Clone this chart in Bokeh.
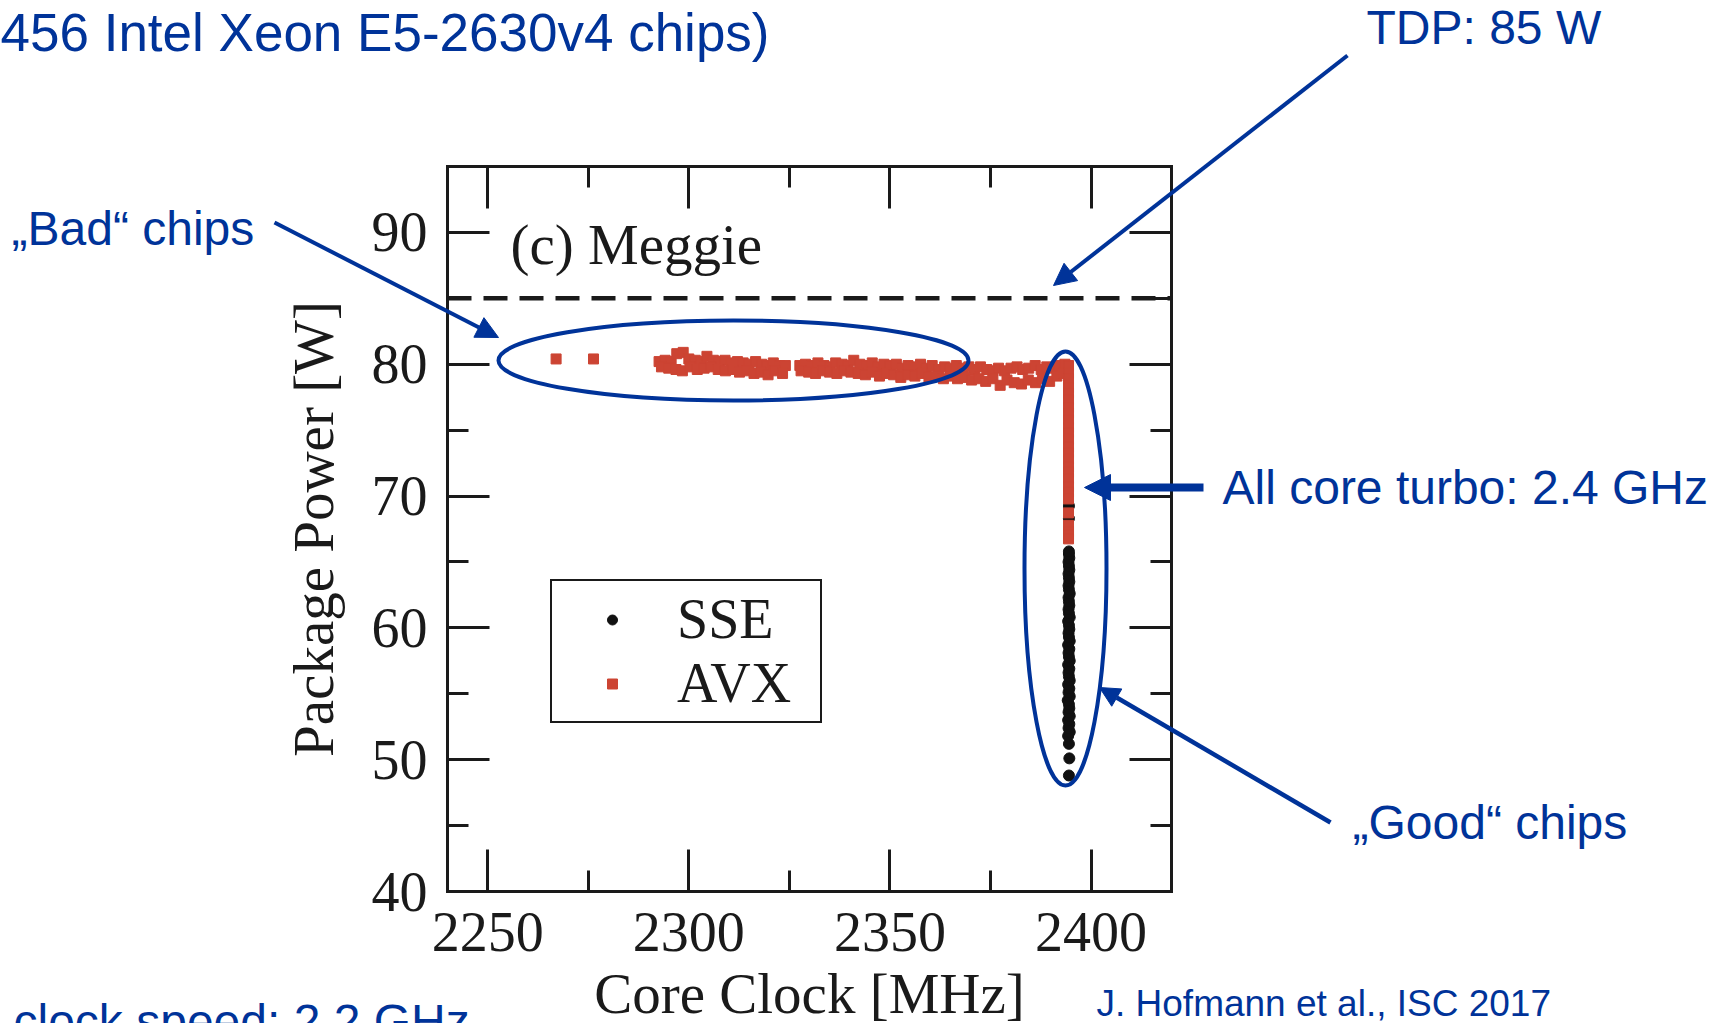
from bokeh.plotting import figure
from bokeh.models import (Range1d, FixedTicker, LinearAxis, Label, Arrow,
                          NormalHead, Legend, LegendItem)
from bokeh.embed import file_html
from bokeh.resources import INLINE

# ---------------- data ----------------
sse_power = [48.8, 50.1, 51.2, 51.8, 52.1, 52.4, 52.7, 53.0, 53.3, 53.6, 53.9,
             54.2, 54.5, 54.8, 55.1, 55.4, 55.7, 56.0, 56.3, 56.6, 56.9, 57.2,
             57.5, 57.8, 58.1, 58.4, 58.7, 59.0, 59.3, 59.6, 59.9, 60.2, 60.5,
             60.8, 61.1, 61.4, 61.7, 62.0, 62.3, 62.6, 62.9, 63.2, 63.5, 63.8,
             64.1, 64.4, 64.7, 65.0, 65.3, 65.6, 65.8, 68.3, 69.25]
sse_clock = [2394.5, 2394.6, 2394.5, 2394.3, 2394.7, 2394.4, 2394.6, 2394.3,
             2394.7, 2394.4, 2394.6, 2394.5, 2394.2, 2394.7, 2394.4, 2394.6,
             2394.3, 2394.7, 2394.5, 2394.4, 2394.6, 2394.3, 2394.7, 2394.5,
             2394.4, 2394.6, 2394.3, 2394.7, 2394.5, 2394.4, 2394.6, 2394.5,
             2394.3, 2394.7, 2394.5, 2394.4, 2394.6, 2394.5, 2394.4, 2394.7,
             2394.5, 2394.4, 2394.6, 2394.5, 2394.4, 2394.6, 2394.5, 2394.4,
             2394.6, 2394.5, 2394.5, 2394.5, 2394.5]

avx_clock = [2267.0, 2276.3,
             # band, upper row
             2292.6, 2294.1, 2295.6, 2297.0, 2298.6, 2300.0, 2301.6, 2303.1,
             2304.5, 2306.1, 2307.6, 2309.0, 2310.6, 2312.1, 2313.5, 2315.0,
             2316.6, 2318.1, 2319.5, 2321.0, 2322.6, 2324.0,
             2327.6, 2329.0, 2330.5, 2332.1, 2333.6, 2335.0, 2336.5, 2338.1,
             2339.6, 2341.0, 2342.5, 2344.1, 2345.6, 2347.0, 2348.5, 2350.1,
             2351.6, 2353.0, 2354.5, 2356.1, 2357.6, 2359.0, 2360.5, 2362.1,
             2363.6, 2365.0, 2366.5, 2368.1, 2369.6, 2371.0, 2372.5, 2374.1,
             2375.6, 2377.0, 2378.5, 2380.1, 2381.6, 2383.0, 2384.5, 2386.1,
             2387.6, 2389.0, 2390.5, 2392.1, 2393.5,
             # band, lower row
             2293.2, 2295.0, 2296.8, 2298.4, 2300.3, 2302.1, 2303.8, 2305.6,
             2307.3, 2309.1, 2310.9, 2312.6, 2314.4, 2316.2, 2317.9, 2319.7,
             2321.4, 2323.3, 2327.9, 2329.8, 2331.5, 2333.3, 2335.0, 2336.8,
             2338.6, 2340.3, 2342.1, 2343.9, 2345.6, 2347.4, 2349.2, 2350.9,
             2352.7, 2354.4, 2356.2, 2358.0, 2359.7, 2361.5, 2363.3, 2365.0,
             2366.8, 2368.6, 2370.3, 2372.1, 2373.8, 2375.6, 2377.4, 2379.1,
             2380.9, 2382.7, 2384.4, 2386.2, 2387.9, 2389.7, 2391.5, 2393.2,
             # vertical column at the all-core turbo clock
             2394.4, 2394.4, 2394.4, 2394.4, 2394.4, 2394.4, 2394.4, 2394.4,
             2394.4, 2394.4, 2394.4, 2394.4, 2394.4, 2394.4, 2394.4, 2394.4,
             2394.4, 2394.4, 2394.4, 2394.4, 2394.4, 2394.4, 2394.4, 2394.4,
             2394.4, 2394.4]
avx_power = [80.4, 80.4,
             # band, upper row
             80.2, 80.3, 80.2, 80.8, 80.9, 80.4, 80.3, 80.2,
             80.6, 80.3, 80.2, 80.3, 80.1, 80.2, 80.1, 80.0,
             80.2, 80.0, 79.9, 80.1, 79.9, 79.9,
             79.9, 80.0, 79.9, 80.1, 79.9, 79.8, 80.1, 80.0,
             79.9, 80.3, 80.0, 79.9, 80.1, 79.8, 80.0, 79.9,
             80.0, 79.7, 79.9, 79.8, 80.0, 79.7, 79.9, 79.6,
             79.8, 79.7, 79.9, 79.7, 79.8, 79.6, 79.8, 79.6,
             79.5, 79.7, 79.5, 79.7, 79.8, 79.6, 79.7, 79.9,
             79.6, 79.8, 79.7, 79.9, 80.0,
             # band, lower row
             79.8, 79.7, 79.6, 79.5, 79.8, 79.6, 79.7, 79.8,
             79.6, 79.5, 79.6, 79.4, 79.5, 79.3, 79.4, 79.2,
             79.5, 79.3, 79.5, 79.4, 79.3, 79.5, 79.4, 79.3,
             79.5, 79.4, 79.3, 79.2, 79.4, 79.1, 79.3, 79.2,
             79.0, 79.2, 79.1, 79.3, 79.0, 79.1, 78.9, 79.1,
             78.9, 79.0, 78.8, 78.9, 78.7, 78.9, 78.4, 78.8,
             78.6, 78.5, 78.8, 78.6, 78.9, 78.7, 79.1, 79.3,
             # vertical column
             79.9, 79.3, 78.9, 78.2, 77.8, 77.3, 76.7, 76.3,
             75.8, 75.2, 74.8, 74.3, 73.7, 73.3, 72.8, 72.2,
             71.8, 71.3, 70.7, 70.3, 69.78, 68.72, 67.78, 67.3,
             67.06, 66.75]

series_names = ["SSE", "AVX"]
x_ticks = [2250, 2300, 2350, 2400]
x_minor = [2275, 2325, 2375]
y_ticks = [40, 50, 60, 70, 80, 90]
y_minor = [45, 55, 65, 75, 85]
x_limits = (2240, 2420)
y_limits = (40, 95)
tdp_watts = 85

# ---------------- layout ----------------
W, H = 1718, 1023
FL, FR, FT, FB = 447, 1171, 166, 891          # inner plot box, pixels
X0, X1 = x_limits
Y0, Y1 = y_limits
BLUE = "#003399"
RED = "#cc4433"
INK = "#1a1a1a"
SERIF = "Liberation Serif"
SANS = "Liberation Sans"
BASE_FIX = 0.37   # em shift so that a label's baseline lands where asked


def dx(px):
    return X0 + (px - FL) * (X1 - X0) / (FR - FL)


def dy(py):
    return Y1 - (py - FT) * (Y1 - Y0) / (FB - FT)


def sx(npx):
    return npx * (X1 - X0) / (FR - FL)


def sy(npx):
    return npx * (Y1 - Y0) / (FB - FT)


p = figure(width=W, height=H, x_range=Range1d(dx(0), dx(W)),
           y_range=Range1d(dy(H), dy(0)), x_axis_type=None, y_axis_type=None,
           output_backend="svg", toolbar_location=None, min_border=0)
p.grid.visible = False
p.background_fill_color = "white"
p.border_fill_color = "white"
p.outline_line_color = None


def make_axis(loc, bounds, ticks, minor, label, show_labels):
    ax = LinearAxis(fixed_location=loc, bounds=bounds,
                    ticker=FixedTicker(ticks=ticks, minor_ticks=minor))
    ax.axis_line_color = INK
    ax.axis_line_width = 3
    ax.axis_line_cap = "square"
    ax.major_tick_line_color = INK
    ax.major_tick_line_width = 3
    ax.minor_tick_line_color = INK
    ax.minor_tick_line_width = 3
    ax.major_tick_in = 42
    ax.major_tick_out = 0
    ax.minor_tick_in = 21
    ax.minor_tick_out = 0
    ax.major_label_text_font = SERIF
    ax.major_label_text_font_size = "56px"
    ax.major_label_text_color = INK if show_labels else None
    if label:
        ax.axis_label = label
        ax.axis_label_text_font = SERIF
        ax.axis_label_text_font_size = "57px"
        ax.axis_label_text_font_style = "normal"
        ax.axis_label_text_color = INK
    return ax


bottom = make_axis(Y0, x_limits, x_ticks, x_minor, "Core Clock [MHz]", True)
bottom.major_label_standoff = 21
bottom.axis_label_standoff = 8
left = make_axis(X0, y_limits, y_ticks, y_minor, "Package Power [W]", True)
left.major_label_standoff = 20
left.axis_label_standoff = 24
top = make_axis(Y1, x_limits, x_ticks, x_minor, None, False)
right = make_axis(X1, y_limits, y_ticks, y_minor, None, False)
p.add_layout(bottom, "below")
p.add_layout(left, "left")
p.add_layout(top, "above")
p.add_layout(right, "right")

# TDP line across the inner box
p.segment(x0=[X0], y0=[tdp_watts], x1=[X1], y1=[tdp_watts], line_color=INK,
          line_width=4.5, line_dash="24 12")

# data
r_sse = p.scatter(sse_clock, sse_power, marker="circle", size=11,
                  fill_color="#111111", line_color="#111111")
r_avx = p.scatter(avx_clock, avx_power, marker="square", size=10,
                  fill_color=RED, line_color=RED)

legend = Legend(items=[LegendItem(label=series_names[0], renderers=[r_sse]),
                       LegendItem(label=series_names[1], renderers=[r_avx])],
                location=(550, H - 723), margin=0, padding=6, spacing=0,
                glyph_width=108, glyph_height=25, label_height=60,
                label_width=137, label_standoff=11,
                label_text_font=SERIF, label_text_font_size="56px",
                label_text_color=INK,
                border_line_color=INK, border_line_width=2.5,
                border_line_alpha=1,
                background_fill_color="white", background_fill_alpha=1)
p.add_layout(legend)


def add_text(text, px, py, size, font, color):
    p.add_layout(Label(x=dx(px), y=dy(py - BASE_FIX * size), text=text,
                       text_font=font, text_font_size=f"{size}px",
                       text_color=color, text_baseline="alphabetic",
                       text_align="left"))


# panel tag
add_text("(c) Meggie", 510, 265, 57, SERIF, INK)

# ---------------- slide annotations ----------------
p.ellipse(x=[dx(733), dx(1065)], y=[dy(360), dy(568)],
          width=[sx(470), sx(82)], height=[sy(80), sy(434)],
          fill_color=None, line_color=BLUE, line_width=4)

arrow_specs = [
    ((1347, 55), (1053, 285), 4, 22),
    ((274, 222), (498, 337), 4, 22),
    ((1203, 487), (1084, 487), 8, 26),
    ((1330, 822), (1099, 687), 4.5, 20),
]
for (ax0, ay0), (ax1, ay1), lw, hs in arrow_specs:
    p.add_layout(Arrow(x_start=dx(ax0), y_start=dy(ay0), x_end=dx(ax1),
                       y_end=dy(ay1), line_color=BLUE, line_width=lw,
                       end=NormalHead(size=hs, fill_color=BLUE,
                                      line_color=BLUE, line_width=1)))

slide_texts = [
    ("456 Intel Xeon E5-2630v4 chips)", 0, 52, 53),
    ("TDP: 85 W", 1366, 45, 48),
    ("\u201eBad\u201c chips", 11, 246, 48),
    ("All core turbo: 2.4 GHz", 1222, 505, 48),
    ("\u201eGood\u201c chips", 1352, 840, 48),
    ("clock speed: 2.2 GHz", 13, 1039, 48),
    ("J. Hofmann et al., ISC 2017", 1096, 1017, 37),
]
for t, x, y, s in slide_texts:
    add_text(t, x, y, s, SANS, BLUE)

open("out.html", "w").write(file_html(p, INLINE))
